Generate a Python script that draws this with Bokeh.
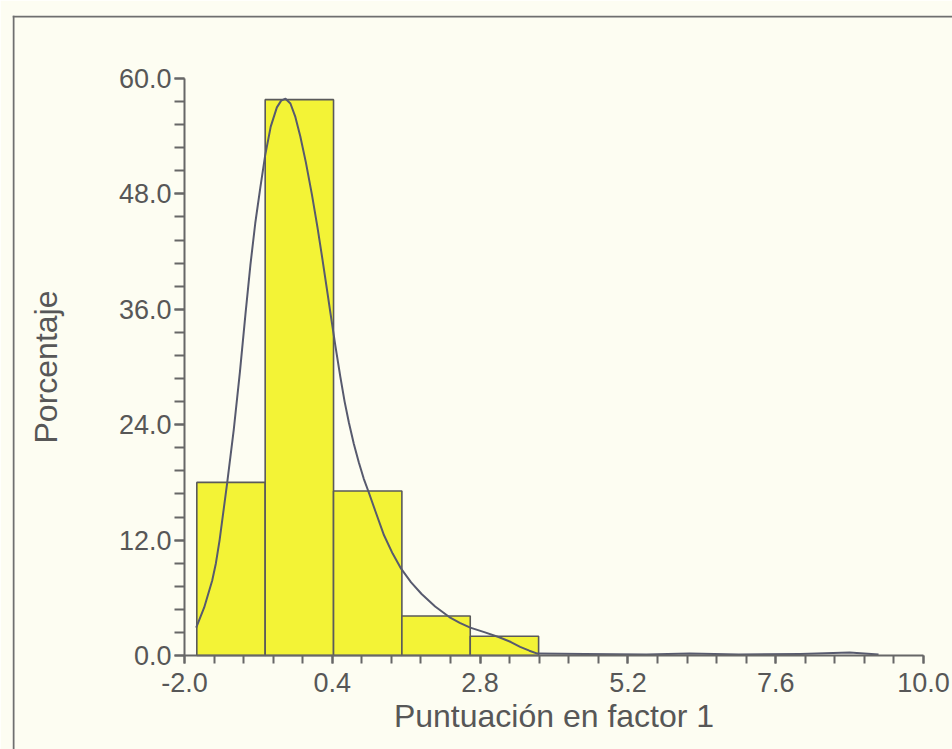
from bokeh.plotting import figure
from bokeh.models import LinearAxis, FixedTicker, Range1d, Span, NumeralTickFormatter
from bokeh.embed import file_html
from bokeh.resources import INLINE

# ---- data ----
bin_edges = [-1.80, -0.69, 0.42, 1.53, 2.64, 3.75]
bar_pct = [18.0, 57.8, 17.1, 4.1, 2.0]

curve_x = [-1.81, -1.68, -1.55, -1.49, -1.43, -1.31, -1.20, -1.10, -1.01, -0.93,
           -0.85, -0.77, -0.69, -0.60, -0.50, -0.43, -0.36, -0.28, -0.20, -0.12,
           -0.03, 0.07, 0.16, 0.24, 0.31, 0.37, 0.45, 0.53, 0.60, 0.67,
           0.75, 0.83, 0.91, 0.99, 1.10, 1.24, 1.38, 1.52, 1.68, 1.85,
           2.07, 2.30, 2.47, 2.64, 2.88, 3.11, 3.30, 3.45, 3.60, 3.73,
           4.50, 5.50, 6.20, 7.00, 8.00, 8.80, 9.27]
curve_y = [2.9, 5.0, 7.8, 9.6, 12.0, 17.8, 23.5, 29.5, 35.5, 40.6,
           45.0, 48.6, 52.0, 55.0, 57.0, 57.7, 57.9, 57.4, 56.0, 54.0,
           51.3, 47.9, 44.5, 41.2, 38.2, 35.6, 32.2, 29.0, 26.4, 24.2,
           22.0, 20.1, 18.4, 17.0, 15.0, 12.5, 10.6, 9.0, 7.6, 6.4,
           5.1, 4.0, 3.4, 2.9, 2.4, 1.9, 1.4, 0.9, 0.5, 0.2,
           0.15, 0.1, 0.2, 0.1, 0.15, 0.3, 0.1]

x_ticks = [-2.0, 0.4, 2.8, 5.2, 7.6, 10.0]
x_tick_labels = ["-2.0", "0.4", "2.8", "5.2", "7.6", "10.0"]
y_ticks = [0.0, 12.0, 24.0, 36.0, 48.0, 60.0]
y_tick_labels = ["0.0", "12.0", "24.0", "36.0", "48.0", "60.0"]

x_title = "Puntuación en factor 1"
y_title = "Porcentaje"

# ---- layout (pixel geometry of the reference) ----
W, H = 952, 749
frame_left, frame_top = 12, 15
ax_x0_px, ax_x1_px = 184, 923     # -2.0 and 10.0
ax_y0_px, ax_y1_px = 655, 78      # 0.0 and 60.0
x_lo, x_hi = x_ticks[0], x_ticks[-1]
y_lo, y_hi = y_ticks[0], y_ticks[-1]

kx = (ax_x1_px - ax_x0_px) / (x_hi - x_lo)
ky = (ax_y0_px - ax_y1_px) / (y_hi - y_lo)
xs = x_lo - (ax_x0_px - frame_left) / kx
xe = xs + (W - frame_left) / kx
yt = y_hi + (ax_y1_px - frame_top) / ky
yb = yt - (H - frame_top) / ky

BG = "#fdfdf2"
AX = "#676767"
TXT = "#575757"
FONT = "Liberation Sans"

p = figure(width=W, height=H, output_backend="svg", toolbar_location=None,
           x_axis_type=None, y_axis_type=None,
           x_range=Range1d(xs, xe), y_range=Range1d(yb, yt),
           min_border_left=frame_left, min_border_top=frame_top,
           min_border_right=0, min_border_bottom=0)
p.background_fill_color = BG
p.border_fill_color = BG
p.outline_line_color = None
p.grid.visible = False

# frame border (left and top)
p.add_layout(Span(location=xs + 1.0 / kx, dimension="height", line_color="#6f6f6f", line_width=2))
p.add_layout(Span(location=yt - 1.0 / ky, dimension="width", line_color="#6f6f6f", line_width=2))

# bars
p.quad(left=bin_edges[:-1], right=bin_edges[1:], top=bar_pct, bottom=0,
       fill_color="#f3f336", line_color="#5a5a5a", line_width=1.6)

# fitted curve
p.line(curve_x, curve_y, line_color="#575a6e", line_width=2, line_join="round")

x_minor = [x_lo + i * (x_ticks[1] - x_ticks[0]) / 5 for i in range(26)]
y_minor = [y_lo + i * (y_ticks[1] - y_ticks[0]) / 5 for i in range(26)]

yaxis = LinearAxis(fixed_location=x_lo, bounds=(y_lo, y_hi),
                   ticker=FixedTicker(ticks=y_ticks, minor_ticks=y_minor),
                   formatter=NumeralTickFormatter(format="0.0"),
                   major_label_overrides=dict(zip(y_ticks, y_tick_labels)),
                   axis_label=y_title)
xaxis = LinearAxis(fixed_location=y_lo, bounds=(x_lo, x_hi),
                   ticker=FixedTicker(ticks=x_ticks, minor_ticks=x_minor),
                   formatter=NumeralTickFormatter(format="0.0"),
                   major_label_overrides=dict(zip(x_ticks, x_tick_labels)),
                   axis_label=x_title)

for ax in (xaxis, yaxis):
    ax.axis_line_color = AX
    ax.axis_line_width = 2
    ax.major_tick_line_color = AX
    ax.minor_tick_line_color = AX
    ax.major_tick_line_width = 2
    ax.minor_tick_line_width = 2
    ax.major_tick_in = 0
    ax.minor_tick_in = 0
    ax.major_label_text_font = FONT
    ax.major_label_text_font_size = "27px"
    ax.major_label_text_color = TXT
    ax.axis_label_text_font = FONT
    ax.axis_label_text_font_size = "32px"
    ax.axis_label_text_font_style = "normal"
    ax.axis_label_text_color = TXT

yaxis.major_tick_out = 10
yaxis.minor_tick_out = 10
yaxis.major_label_standoff = 3
yaxis.axis_label_standoff = 52

xaxis.major_tick_out = 8
xaxis.minor_tick_out = 8
xaxis.major_label_standoff = 9
xaxis.axis_label_standoff = 3

p.add_layout(yaxis, "left")
p.add_layout(xaxis, "below")

open("out.html", "w").write(file_html(p, INLINE))
